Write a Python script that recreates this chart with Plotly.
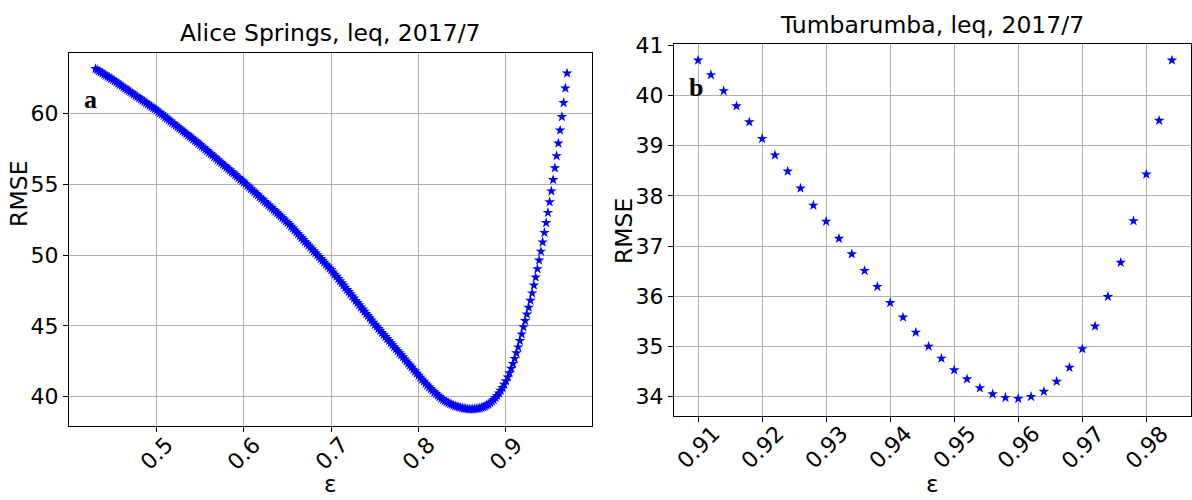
import numpy as np
import plotly.graph_objects as go

# ---------------- data ----------------
# Panel a: Alice Springs, epsilon grid 0.430 ... 0.970 (step 0.002)
rmse_a = [
    63.18, 63.10, 63.02, 62.95, 62.87, 62.79, 62.71, 62.63, 62.56, 62.48, 62.40,
    62.31, 62.23, 62.14, 62.06, 61.97, 61.88, 61.80, 61.71, 61.63, 61.54,
    61.45, 61.37, 61.28, 61.20, 61.11, 61.02, 60.94, 60.85, 60.77, 60.68,
    60.59, 60.51, 60.42, 60.34, 60.25,
    60.15, 60.05, 59.96, 59.86, 59.76, 59.66, 59.56, 59.47, 59.37, 59.27,
    59.17, 59.07, 58.98, 58.88, 58.78, 58.68, 58.58, 58.49, 58.39, 58.29,
    58.19, 58.09, 58.00, 57.90, 57.80,
    57.69, 57.59, 57.48, 57.38, 57.27, 57.16, 57.06, 56.95, 56.85, 56.74,
    56.63, 56.53, 56.42, 56.32, 56.21, 56.10, 56.00, 55.89, 55.79, 55.68,
    55.57, 55.47, 55.36, 55.26, 55.15,
    55.04, 54.92, 54.81, 54.69, 54.58, 54.47, 54.35, 54.24, 54.12, 54.01,
    53.90, 53.78, 53.67, 53.55, 53.44, 53.33, 53.21, 53.10, 52.98, 52.87,
    52.76, 52.64, 52.53, 52.41, 52.30,
    52.17, 52.03, 51.90, 51.76, 51.63, 51.50, 51.36, 51.23, 51.09, 50.96,
    50.83, 50.69, 50.56, 50.42, 50.29, 50.16, 50.02, 49.89, 49.75, 49.62,
    49.49, 49.35, 49.22, 49.08, 48.95,
    48.80, 48.64, 48.49, 48.33, 48.18, 48.03, 47.87, 47.72, 47.56, 47.41,
    47.26, 47.10, 46.95, 46.79, 46.64, 46.49, 46.33, 46.18, 46.02, 45.87,
    45.72, 45.56, 45.41, 45.25, 45.10,
    44.96, 44.81, 44.67, 44.52, 44.38, 44.24, 44.09, 43.95, 43.80, 43.66,
    43.52, 43.37, 43.23, 43.08, 42.94, 42.80, 42.65, 42.51, 42.36, 42.22,
    42.08, 41.93, 41.79, 41.64, 41.50,
    41.36, 41.22, 41.08, 40.94, 40.80, 40.67, 40.55, 40.43, 40.31, 40.19,
    40.08, 39.98, 39.88, 39.79, 39.71, 39.63, 39.56, 39.50, 39.44, 39.39,
    39.34, 39.30, 39.26, 39.23, 39.20, 39.17, 39.15, 39.13, 39.12,
    39.12, 39.12, 39.13, 39.14, 39.16, 39.19, 39.22, 39.27, 39.32, 39.39,
    39.46, 39.56, 39.66, 39.78, 39.92, 40.07, 40.24, 40.43, 40.63, 40.86,
    41.11, 41.38, 41.67, 41.99, 42.33, 42.69, 43.08, 43.50, 43.95, 44.42,
    44.92, 45.36, 45.82, 46.30, 46.80, 47.32, 47.87, 48.44, 49.03, 49.64,
    50.27, 50.92, 51.59, 52.29, 53.01, 53.76, 54.53, 55.33, 56.16, 57.02,
    57.91, 58.83, 59.78, 60.77, 61.80, 62.86,
]
eps_a_start, eps_step = 0.430, 0.002
eps_a = np.round(eps_a_start + eps_step * np.arange(len(rmse_a)), 3)

# Panel b: Tumbarumba
eps_b = [0.910, 0.912, 0.914, 0.916, 0.918, 0.920, 0.922, 0.924, 0.926, 0.928,
         0.930, 0.932, 0.934, 0.936, 0.938, 0.940, 0.942, 0.944, 0.946, 0.948,
         0.950, 0.952, 0.954, 0.956, 0.958, 0.960, 0.962, 0.964, 0.966, 0.968,
         0.970, 0.972, 0.974, 0.976, 0.978, 0.980, 0.982, 0.984]
rmse_b = [40.70, 40.41, 40.09, 39.79, 39.47, 39.14, 38.81, 38.49, 38.15, 37.81,
          37.49, 37.15, 36.84, 36.51, 36.19, 35.87, 35.58, 35.28, 35.00, 34.76,
          34.53, 34.35, 34.17, 34.05, 33.98, 33.96, 34.00, 34.10, 34.30, 34.58,
          34.95, 35.40, 35.99, 36.67, 37.50, 38.43, 39.50, 40.70]

xticks_a = [0.5, 0.6, 0.7, 0.8, 0.9]
xticklabels_a = ["0.5", "0.6", "0.7", "0.8", "0.9"]
yticks_a = [40, 45, 50, 55, 60]
xticks_b = [0.91, 0.92, 0.93, 0.94, 0.95, 0.96, 0.97, 0.98]
xticklabels_b = ["0.91", "0.92", "0.93", "0.94", "0.95", "0.96", "0.97", "0.98"]
yticks_b = [34, 35, 36, 37, 38, 39, 40, 41]

titles = ["Alice Springs, leq, 2017/7", "Tumbarumba, leq, 2017/7"]
panel_letters = ["a", "b"]

# ---------------- figure ----------------
W, H = 1192, 500
FONT = "DejaVu Sans"
TICK_SIZE = 22
TITLE_SIZE = 23.5
LABEL_SIZE = 23.5

def px(x):
    return x / W

def py(y):
    return 1 - y / H

fig = go.Figure()
star = dict(symbol="star", size=8, color="#0000ff", line=dict(width=0))
fig.add_trace(go.Scatter(x=eps_a, y=rmse_a, mode="markers", marker=star,
                         xaxis="x", yaxis="y", hoverinfo="x+y"))
fig.add_trace(go.Scatter(x=eps_b, y=rmse_b, mode="markers", marker=star,
                         xaxis="x2", yaxis="y2", hoverinfo="x+y"))

common_axis = dict(showline=True, linecolor="black", linewidth=1, mirror=True,
                   showgrid=True, gridcolor="#b0b0b0", gridwidth=1,
                   ticks="outside", ticklen=5, tickwidth=1, tickcolor="black",
                   zeroline=False,
                   tickfont=dict(family=FONT, size=TICK_SIZE, color="black"))

# pixel geometry of the two axes boxes
A_L, A_R, A_T, A_B = 69, 592, 43, 424
B_L, B_R, B_T, B_B = 674, 1190.5, 34, 414.3

fig.update_layout(
    width=W, height=H, margin=dict(l=0, r=0, t=0, b=0),
    paper_bgcolor="white", plot_bgcolor="white", showlegend=False,
    xaxis=dict(common_axis, domain=[px(A_L), px(A_R)], range=[0.3997, 0.9985],
               tickvals=xticks_a, showticklabels=False, anchor="y"),
    yaxis=dict(common_axis, domain=[py(A_B), py(A_T)], range=[37.95, 64.29],
               tickvals=yticks_a, anchor="x"),
    xaxis2=dict(common_axis, domain=[px(B_L), px(B_R)], range=[0.90624, 0.9869],
                tickvals=xticks_b, showticklabels=False, anchor="y2"),
    yaxis2=dict(common_axis, domain=[py(B_B), py(B_T)], range=[33.61, 41.02],
                tickvals=yticks_b, anchor="x2"),
)

ann = []
# rotated x tick labels (centred under tick like matplotlib rotation=45)
for v, t in zip(xticks_a, xticklabels_a):
    ann.append(dict(x=v, y=py(452), xref="x", yref="paper", text=t, showarrow=False,
                    textangle=-45, xanchor="center", yanchor="middle",
                    font=dict(family=FONT, size=TICK_SIZE, color="black")))
for v, t in zip(xticks_b, xticklabels_b):
    ann.append(dict(x=v, y=py(446), xref="x2", yref="paper", text=t, showarrow=False,
                    textangle=-45, xanchor="center", yanchor="middle",
                    font=dict(family=FONT, size=TICK_SIZE, color="black")))
# titles
ann.append(dict(x=px((A_L + A_R) / 2), y=py(23), xref="paper", yref="paper", text=titles[0],
                showarrow=False, xanchor="center", yanchor="middle",
                font=dict(family=FONT, size=TITLE_SIZE, color="black")))
ann.append(dict(x=px((B_L + B_R) / 2), y=py(14), xref="paper", yref="paper", text=titles[1],
                showarrow=False, xanchor="center", yanchor="middle",
                font=dict(family=FONT, size=TITLE_SIZE, color="black")))
# axis labels
for xc, yc in [(19, 187), (624, 225)]:
    ann.append(dict(x=px(xc), y=py(yc), xref="paper", yref="paper", text="RMSE",
                    showarrow=False, textangle=-90, xanchor="center", yanchor="middle",
                    font=dict(family=FONT, size=LABEL_SIZE, color="black")))
for xc in [(A_L + A_R) / 2, (B_L + B_R) / 2]:
    ann.append(dict(x=px(xc), y=0, xref="paper", yref="paper", text="ε",
                    showarrow=False, xanchor="center", yanchor="bottom",
                    font=dict(family=FONT, size=LABEL_SIZE, color="black")))
# panel letters
for (xc, yc), letter in zip([(90, 90), (696, 78)], panel_letters):
    ann.append(dict(x=px(xc), y=py(yc), xref="paper", yref="paper",
                    text="<b>" + letter + "</b>", showarrow=False,
                    xanchor="center", yanchor="middle",
                    font=dict(family="Liberation Serif", size=26, color="black")))
fig.update_layout(annotations=ann)

fig.write_html("out.html", config={"displayModeBar": False},
               post_script="document.body.style.margin='0px';document.body.style.overflow='hidden';")
